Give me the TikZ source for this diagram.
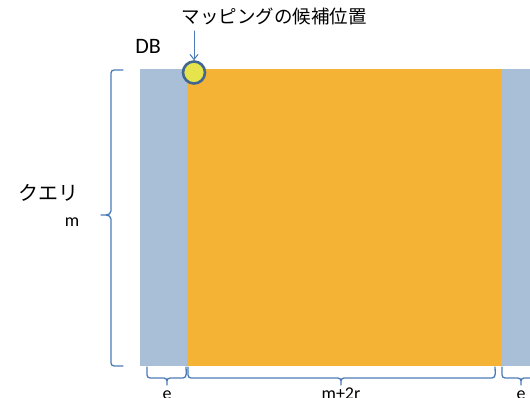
\documentclass[tikz,border=0pt]{standalone}
\usepackage{fontspec}
\setmainfont{Carlito}
\newfontfamily\cjk{Noto Sans CJK JP}
\usetikzlibrary{arrows.meta}
\definecolor{dbblue}{HTML}{A9BFD7}
\definecolor{qorange}{HTML}{F4B335}
\definecolor{brc}{HTML}{4A7BB7}
\definecolor{cyel}{HTML}{E6E34C}
\definecolor{cedge}{HTML}{41668F}
\tikzset{
  brc/.style={draw=brc, line width=1.3pt, line join=round, line cap=round},
  lbl/.style={inner sep=0pt, font=\fontsize{18}{20}\selectfont},
  blbl/.style={lbl, anchor=base}
}
\begin{document}
\begin{tikzpicture}[x=1pt,y=-1pt]
\useasboundingbox (0,0) rectangle (530,398);
% blocks
\fill[dbblue] (140,69) rectangle (187,366);
\fill[qorange] (187,69) rectangle (501,366);
\fill[dbblue] (501,69) rectangle (535,366);
% candidate circle
\node[circle, draw=cedge, line width=2.6pt, fill=cyel, minimum size=22pt, inner sep=0pt] (cand) at (194,72.5) {};
% top label and arrow
\node[inner sep=0pt, font=\cjk\fontsize{18.5}{20}\selectfont] (title) at (274,17) {マッピングの候補位置};
\coordinate (atop) at (194,31);
\draw[brc, line width=1pt, -{Straight Barb[length=5pt,width=8pt]}] (atop) -- (cand.north);
\node[inner sep=0pt, font=\fontsize{22}{24}\selectfont] (db) at (148,46.5) {DB};
% left brace
\coordinate (lbT) at (123,70);
\coordinate (lbB) at (123,366);
\coordinate (lbTip) at (101,215);
\draw[brc] (lbT) -- (114,70) to[out=180,in=90] (111,73) -- (111,211) to[out=-90,in=0] (106,215) -- (lbTip)
  (106,215) to[out=0,in=90] (111,219) -- (111,363) to[out=-90,in=180] (114,366) -- (lbB);
\node[inner sep=0pt, font=\cjk\fontsize{20}{22}\selectfont] (query) at (48,193) {クエリ};
\node[lbl] (mlbl) at (72,222) {m};
% bottom braces
\coordinate (b1L) at (147,367);
\coordinate (b1R) at (186,367);
\draw[brc] (b1L) -- (147,375) to[out=-90,in=180] (150,378) -- (164,378) to[out=0,in=90] (167,381) -- (167,385)
  (167,381) to[out=90,in=180] (170,378) -- (183,378) to[out=0,in=-90] (b1R);
\coordinate (b2L) at (188,367);
\coordinate (b2R) at (495,367);
\draw[brc] (b2L) -- (188,375) to[out=-90,in=180] (191,378) -- (338,378) to[out=0,in=90] (341,381) -- (341,385)
  (341,381) to[out=90,in=180] (344,378) -- (492,378) to[out=0,in=-90] (b2R);
\coordinate (b3L) at (502,367);
\draw[brc] (b3L) -- (502,375) to[out=-90,in=180] (505,378) -- (518,378) to[out=0,in=90] (521,381) -- (521,385)
  (521,381) to[out=90,in=180] (524,378) -- (535,378);
\node[blbl] (e1) at (167,399) {e};
\node[blbl] (mr) at (341,399) {m+2r};
\node[blbl] (e2) at (521,399) {e};
\end{tikzpicture}
\end{document}
